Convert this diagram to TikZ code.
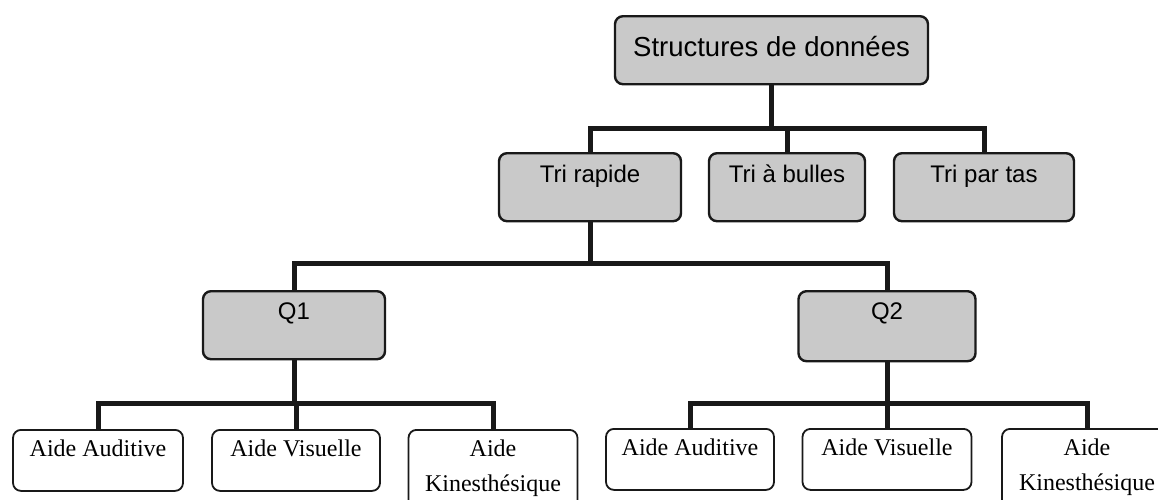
\documentclass[tikz,border=0pt]{standalone}
\usepackage{fontspec}
\setmainfont{Liberation Serif}
\newfontfamily\arialfont{Liberation Sans}
\definecolor{boxgray}{RGB}{201,201,201}
\begin{document}
\begin{tikzpicture}[x=1pt,y=-1pt,
  link/.style={line width=5pt,draw=black!90,line join=miter},
  graybox/.style={draw=black!90,line width=2.4pt,fill=boxgray,rounded corners=8pt,
    anchor=north,inner xsep=0pt,inner ysep=0pt,minimum height=68pt,
    font=\arialfont\fontsize{24}{29}\selectfont,text height=29.6pt,text depth=38.4pt},
  whitebox/.style={draw=black!90,line width=1.8pt,fill=white,rounded corners=8pt,
    anchor=north,inner xsep=0pt,inner ysep=0pt,
    font=\fontsize{24}{35}\selectfont,align=center,text height=27pt,text depth=34pt},
  tallbox/.style={whitebox,text height=62pt,text depth=28pt}
]
\useasboundingbox (0,0) rectangle (1158,499);
\clip (0,0) rectangle (1158,499);

% top level
\node[graybox,minimum width=313pt,font=\arialfont\fontsize{27.5}{33}\selectfont,
      text height=40pt,text depth=28pt] (root) at (771.5,15) {Structures de donn\'ees};

% sorting algorithms
\node[graybox,minimum width=182pt] (rapide) at (590,152) {Tri rapide};
\node[graybox,minimum width=156pt] (bulles) at (787,152) {Tri \`a bulles};
\node[graybox,minimum width=180pt] (tas)    at (984,152) {Tri par tas};

% questions
\node[graybox,minimum width=182pt,text height=28.6pt,text depth=39.4pt] (q1) at (294,290) {Q1};
\node[graybox,minimum width=177pt,text height=28.6pt,text depth=41.4pt] (q2) at (887,290) {Q2};

% aids under Q1
\node[whitebox,minimum width=170pt] (a1) at (98,429)  {Aide Auditive};
\node[whitebox,minimum width=168pt] (a2) at (296,429) {Aide Visuelle};
\node[tallbox,minimum width=169pt] (a3) at (493,429) {Aide\\Kinesth\'esique};

% aids under Q2
\node[whitebox,minimum width=168pt] (b1) at (690,428)  {Aide Auditive};
\node[whitebox,minimum width=169pt] (b2) at (887,428)  {Aide Visuelle};
\node[tallbox,minimum width=170pt] (b3) at (1087,428) {Aide\\Kinesth\'esique};

% junction points of the tree
\coordinate (j1) at (771.5,128);
\coordinate (j2) at (590,263);
\coordinate (j3) at (294,403);
\coordinate (j4) at (887,403);

% connectors
\draw[link] (root.south) -- (j1);
\draw[link] (rapide.north) |- (j1) -| (tas.north);
\draw[link] (bulles.north) -- (bulles.north |- j1);

\draw[link] (rapide.south) -- (j2);
\draw[link] (q1.north) |- (j2) -| (q2.north);

\draw[link] (q1.south) -- (j3);
\draw[link] (a1.north) |- (j3) -| (a3.north);
\draw[link] (a2.north) -- (a2.north |- j3);

\draw[link] (q2.south) -- (j4);
\draw[link] (b1.north) |- (j4) -| (b3.north);
\draw[link] (b2.north) -- (b2.north |- j4);
\end{tikzpicture}
\end{document}
